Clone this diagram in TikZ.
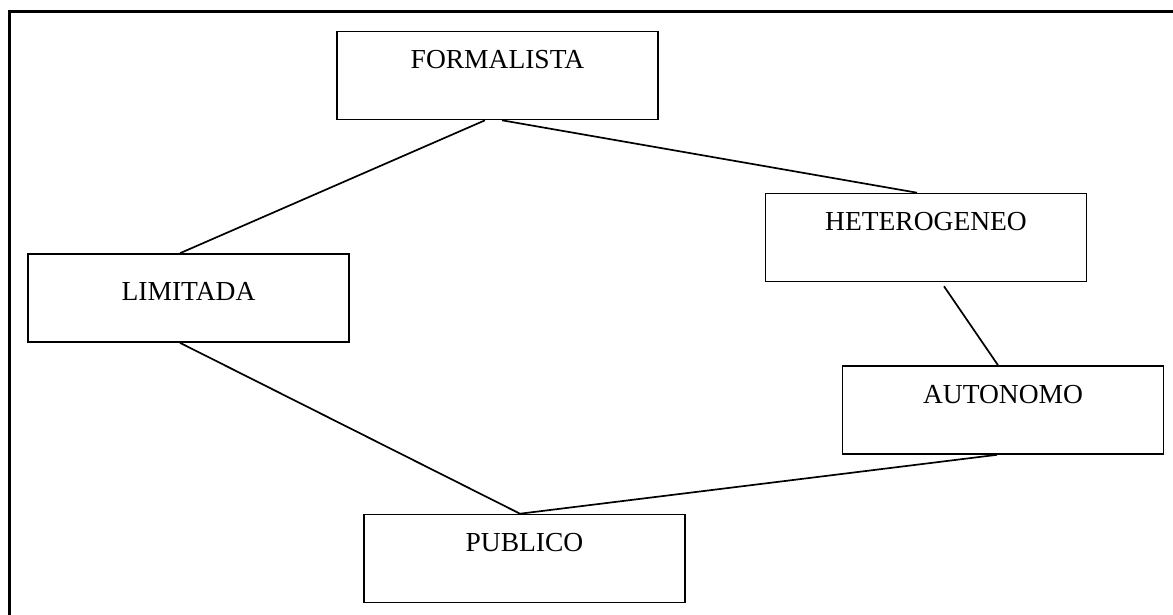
\documentclass[tikz,border=0pt]{standalone}
\usepackage{fontspec}
\setmainfont{Liberation Serif}
\begin{document}
\begin{tikzpicture}[x=1pt,y=-1pt,
  frameline/.style={line width=3pt},
  conceptbox/.style={draw, line width=1.6pt, rectangle, inner sep=0pt,
    minimum width=321pt, minimum height=88pt,
    text height=37pt, text depth=51pt,
    font=\fontsize{27.5}{30}\selectfont},
  link/.style={line width=1.7pt}]
\useasboundingbox (0,0) rectangle (1173,614);
\clip (0,0) rectangle (1173,614);
% outer frame (runs past the right and bottom edges)
\draw[frameline] (9,11) rectangle (1190,640);

% concept boxes
\node[conceptbox] (F) at (497.5,75.5) {FORMALISTA};
\node[conceptbox] (H) at (926,237.5) {HETEROGENEO};
\node[conceptbox] (A) at (1003,410) {AUTONOMO};
\node[conceptbox, text height=46pt, text depth=42pt] (L) at (188.5,298) {LIMITADA};
\node[conceptbox] (P) at (524.5,558.5) {PUBLICO};

% connectors
\draw[link] ([xshift=-12.5pt]F.south) -- ([xshift=-8.5pt]L.north);
\draw[link] ([xshift=4.5pt]F.south) -- ([xshift=-9pt]H.north);
\draw[link] ([xshift=18pt,yshift=-4pt]H.south) -- ([xshift=-5pt]A.north);
\draw[link] ([xshift=-6pt]A.south) -- ([xshift=-4.5pt]P.north);
\draw[link] ([xshift=-8.5pt]L.south) -- ([xshift=-4.5pt]P.north);
\end{tikzpicture}
\end{document}
